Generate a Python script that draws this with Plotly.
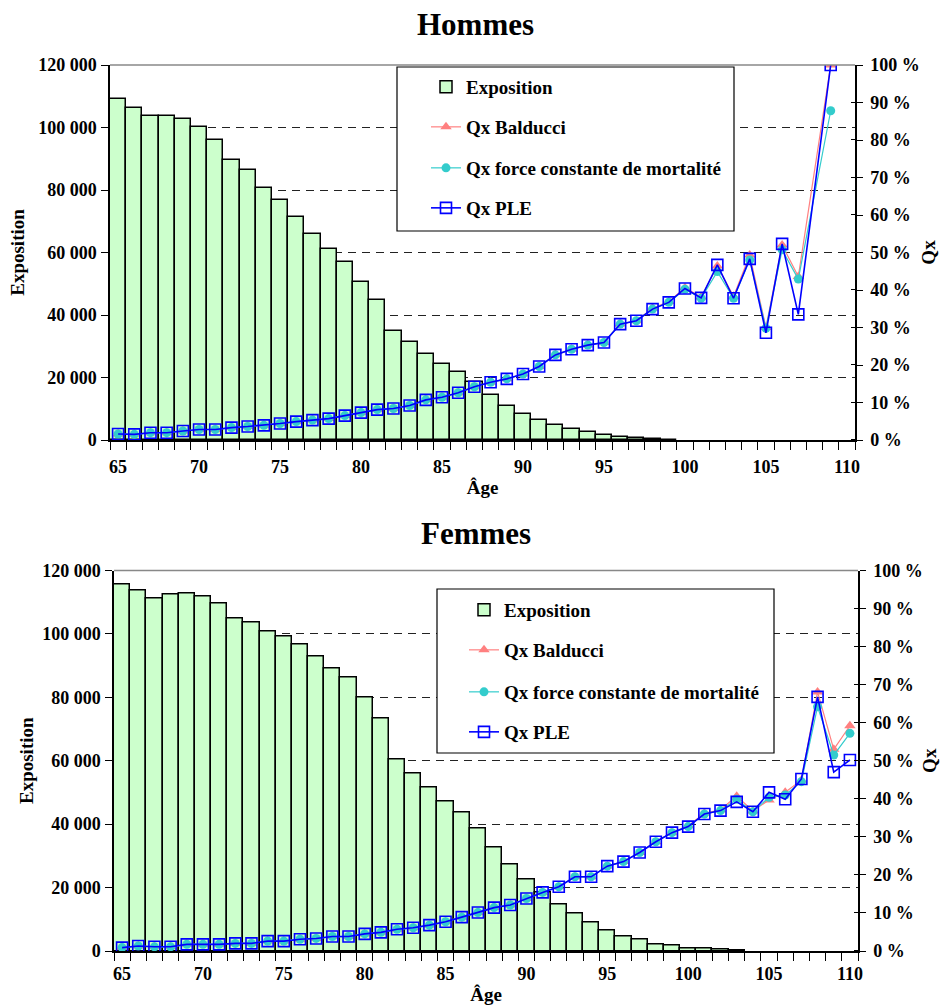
import plotly.graph_objects as go

# ---------------- data ----------------
ages = list(range(65, 111))

expo_hommes = [109100, 106100, 103700, 103700, 102700, 100300, 96000, 89500, 86500, 80700,
               76700, 71400, 66000, 61000, 57100, 50700, 44800, 34900, 31500, 27500,
               24200, 21700, 18600, 14300, 10900, 8400, 6500, 4900, 3500, 2500,
               1500, 1070, 640, 250, 150, None, None, None, None, None,
               None, None, None, None, None, None]

qx_ple_h = [1.6, 1.5, 1.95, 1.95, 2.4, 2.8, 2.8, 3.3, 3.6, 3.9,
            4.4, 4.9, 5.3, 5.7, 6.5, 7.3, 8.1, 8.4, 9.2, 10.7,
            11.4, 12.6, 14.2, 15.4, 16.3, 17.6, 19.6, 22.7, 24.2, 25.3,
            26.0, 30.9, 31.8, 34.9, 36.7, 40.4, 37.9, 46.7, 37.8, 48.3,
            28.6, 52.3, 33.5, None, 100.0, None]
qx_bal_h = [1.6, 1.5, 1.95, 1.95, 2.4, 2.8, 2.8, 3.3, 3.6, 3.9,
            4.4, 4.9, 5.3, 5.7, 6.5, 7.3, 8.1, 8.4, 9.2, 10.7,
            11.4, 12.6, 14.2, 15.4, 16.3, 17.6, 19.6, 22.7, 24.2, 25.3,
            26.0, 30.9, 31.8, 35.1, 36.9, 40.6, 38.1, 46.4, 38.3, 49.3,
            30.0, 52.0, 43.6, None, 100.0, None]
qx_fcm_h = [1.6, 1.5, 1.95, 1.95, 2.4, 2.8, 2.8, 3.3, 3.6, 3.9,
            4.4, 4.9, 5.3, 5.7, 6.5, 7.3, 8.1, 8.4, 9.2, 10.7,
            11.4, 12.6, 14.2, 15.4, 16.3, 17.6, 19.6, 22.7, 24.2, 25.3,
            26.0, 30.9, 31.8, 34.9, 36.7, 40.2, 37.8, 44.9, 37.8, 48.0,
            29.8, 50.7, 42.9, None, 87.8, None]

expo_femmes = [115700, 113800, 111300, 112300, 112700, 111800, 109500, 105000, 103700, 100700,
               99100, 96700, 92800, 89100, 86100, 79800, 73400, 60300, 56000, 51500,
               47300, 43700, 38600, 32700, 27400, 22600, 18500, 14700, 11900, 8900,
               6600, 4500, 3700, 2200, 1600, 850, 750, 350, 300, None,
               None, None, None, None, None, None]

qx_ple_f = [0.9, 1.3, 1.1, 1.1, 1.75, 1.75, 1.75, 2.0, 2.0, 2.6,
            2.6, 3.1, 3.3, 3.8, 3.8, 4.5, 4.9, 5.7, 6.1, 6.8,
            7.7, 8.9, 10.1, 11.4, 12.1, 13.8, 15.4, 16.9, 19.5, 19.5,
            22.3, 23.5, 25.9, 28.7, 31.1, 32.7, 36.0, 36.9, 39.2, 36.6,
            41.7, 39.9, 45.2, 66.8, 47.0, 50.2]
qx_bal_f = [0.9, 1.3, 1.1, 1.1, 1.75, 1.75, 1.75, 2.0, 2.0, 2.6,
            2.6, 3.1, 3.3, 3.8, 3.8, 4.5, 4.9, 5.7, 6.1, 6.8,
            7.7, 8.9, 10.1, 11.4, 12.1, 13.8, 15.4, 16.9, 19.5, 19.5,
            22.3, 23.5, 25.9, 28.7, 31.1, 32.9, 36.2, 37.1, 40.7, 36.8,
            39.7, 41.7, 44.9, 68.1, 53.0, 59.2]
qx_fcm_f = [0.9, 1.3, 1.1, 1.1, 1.75, 1.75, 1.75, 2.0, 2.0, 2.6,
            2.6, 3.1, 3.3, 3.8, 3.8, 4.5, 4.9, 5.7, 6.1, 6.8,
            7.7, 8.9, 10.1, 11.4, 12.1, 13.8, 15.4, 16.9, 19.5, 19.5,
            22.3, 23.5, 25.9, 28.7, 31.1, 32.7, 36.0, 36.9, 39.9, 36.6,
            40.4, 41.0, 44.5, 64.2, 51.5, 57.2]

expo_ticks = [0, 20000, 40000, 60000, 80000, 100000, 120000]
age_ticks = [65, 70, 75, 80, 85, 90, 95, 100, 105, 110]
titres = ["Hommes", "Femmes"]
noms = ["Exposition", "Qx Balducci", "Qx force constante de mortalité", "Qx PLE"]

# ---------------- styling helpers ----------------
W, H = 940, 1007
OFF = 0  # body margin removed below, figure sits at the page origin
def fx(px):
    return (px - OFF) / W
def fy(py):
    return 1 - (py - OFF) / H

FONT = "Liberation Serif"
tickfont = dict(family=FONT, size=18, color="black", weight="bold")
legfont = dict(family=FONT, size=19, color="black", weight="bold")
titfont = dict(family=FONT, size=19, color="black", weight="bold")

C_BAR = "#CCFFCC"
C_BAL = "#FF8080"
C_FCM = "#33CCCC"
C_PLE = "#0000FF"

fig = go.Figure()

panels = [
    dict(expo=expo_hommes, bal=qx_bal_h, fcm=qx_fcm_h, ple=qx_ple_h,
         xa="x", yl="y", yr="y2", legs=["legend", "legend2", "legend3", "legend4"]),
    dict(expo=expo_femmes, bal=qx_bal_f, fcm=qx_fcm_f, ple=qx_ple_f,
         xa="x2", yl="y3", yr="y4", legs=["legend5", "legend6", "legend7", "legend8"]),
]

for p in panels:
    fig.add_trace(go.Bar(x=ages, y=p["expo"], name=noms[0], xaxis=p["xa"], yaxis=p["yl"],
                         marker=dict(color=C_BAR, line=dict(color="black", width=1.5)),
                         width=1, legend=p["legs"][0]))
    fig.add_trace(go.Scatter(x=ages, y=p["bal"], name=noms[1], xaxis=p["xa"], yaxis=p["yr"],
                             mode="lines+markers", connectgaps=True,
                             line=dict(color=C_BAL, width=1.2),
                             marker=dict(symbol="triangle-up", size=10, color=C_BAL),
                             legend=p["legs"][1]))
    fig.add_trace(go.Scatter(x=ages, y=p["fcm"], name=noms[2], xaxis=p["xa"], yaxis=p["yr"],
                             mode="lines+markers", connectgaps=True,
                             line=dict(color=C_FCM, width=1.2),
                             marker=dict(symbol="circle", size=9, color=C_FCM),
                             legend=p["legs"][2]))
    fig.add_trace(go.Scatter(x=ages, y=p["ple"], name=noms[3], xaxis=p["xa"], yaxis=p["yr"],
                             mode="lines+markers", connectgaps=True,
                             line=dict(color=C_PLE, width=1.6),
                             marker=dict(symbol="square-open", size=11, color=C_PLE,
                                         line=dict(width=1.6, color=C_PLE)),
                             legend=p["legs"][3]))

def xaxis_cfg(left, right, anchor, standoff_lab, standoff_tit):
    return dict(domain=[fx(left), fx(right)], anchor=anchor, range=[64.5, 110.5],
                tickmode="array", tickvals=age_ticks, ticks="", tickfont=tickfont,
                ticklabelstandoff=standoff_lab,
                showline=True, linecolor="black", linewidth=1.5, showgrid=False, zeroline=False,
                minor=dict(tickmode="linear", tick0=64.5, dtick=1, ticks="outside",
                           ticklen=8, tickcolor="black", tickwidth=1.2),
                title=dict(text="Âge", font=titfont, standoff=standoff_tit))

def yleft_cfg(top, bottom, anchor, standoff_tit):
    return dict(domain=[fy(bottom), fy(top)], anchor=anchor, range=[0, 120000],
                tickmode="array", tickvals=expo_ticks, tickformat=",d",
                ticks="outside", ticklen=7, tickcolor="black", tickwidth=1.2,
                ticklabelstandoff=1, tickfont=tickfont,
                showline=True, linecolor="black", linewidth=1.5, zeroline=False,
                showgrid=True, gridcolor="#222222", gridwidth=1, griddash="8px,6px",
                title=dict(text="Exposition", font=titfont, standoff=standoff_tit))

def yright_cfg(overlay, anchor):
    return dict(overlaying=overlay, side="right", anchor=anchor, range=[0, 100],
                tickmode="linear", tick0=0, dtick=10, ticksuffix=" %",
                ticks="outside", ticklen=6, tickcolor="black", tickwidth=1.2,
                ticklabelstandoff=4, tickfont=tickfont,
                minor=dict(tickmode="linear", tick0=0.02, dtick=10, ticks="inside",
                           ticklen=4, tickcolor="black", tickwidth=1.2),
                showline=True, linecolor="black", linewidth=1.5, zeroline=False, showgrid=False,
                title=dict(text="Qx", font=titfont, standoff=3))

# legend positions (pixel)
leg_pos = {
    "legend": (426, 87), "legend2": (426, 127), "legend3": (426, 168), "legend4": (426, 208),
    "legend5": (464, 610), "legend6": (464, 650), "legend7": (464, 692), "legend8": (464, 732),
}
legends = {}
for k, (lx, ly) in leg_pos.items():
    legends[k] = dict(x=fx(lx), y=fy(ly), xanchor="left", yanchor="middle",
                      xref="paper", yref="paper", bgcolor="rgba(0,0,0,0)", borderwidth=0,
                      font=dict(legfont), itemwidth=30)

shapes = [
    # legend boxes
    dict(type="rect", xref="paper", yref="paper", x0=fx(397), x1=fx(734), y0=fy(231), y1=fy(67),
         line=dict(color="black", width=1.2), fillcolor="white", layer="above"),
    dict(type="rect", xref="paper", yref="paper", x0=fx(437), x1=fx(774), y0=fy(753), y1=fy(589),
         line=dict(color="black", width=1.2), fillcolor="white", layer="above"),
    # gray top border of plot areas
    dict(type="line", xref="x domain", yref="y domain", x0=0, x1=1, y0=1, y1=1,
         line=dict(color="#888888", width=1.5), layer="above"),
    dict(type="line", xref="x2 domain", yref="y3 domain", x0=0, x1=1, y0=1, y1=1,
         line=dict(color="#888888", width=1.5), layer="above"),
]

titlefont = dict(family=FONT, size=31, color="black", weight="bold")
annotations = [
    dict(text=titres[0], x=fx(476), y=fy(25), xref="paper", yref="paper", showarrow=False,
         xanchor="center", yanchor="middle", font=titlefont),
    dict(text=titres[1], x=fx(476), y=fy(533), xref="paper", yref="paper", showarrow=False,
         xanchor="center", yanchor="middle", font=titlefont),
]

fig.update_layout(
    width=W, height=H, margin=dict(l=0, r=0, t=0, b=0, autoexpand=False),
    font=dict(family=FONT, color="black", weight="bold"),
    paper_bgcolor="white", plot_bgcolor="white",
    separators=", ", bargap=0, barmode="overlay",
    showlegend=True,
    xaxis=xaxis_cfg(110, 855, "y", 10, 4),
    yaxis=yleft_cfg(65, 440, "x", 9),
    yaxis2=yright_cfg("y", "x"),
    xaxis2=xaxis_cfg(114, 858, "y3", 6, 4),
    yaxis3=yleft_cfg(570.5, 951, "x2", 4),
    yaxis4=yright_cfg("y3", "x2"),
    shapes=shapes, annotations=annotations,
    **legends,
)

fig.write_html("out.html",
               config={"displayModeBar": False},
               post_script="document.body.style.margin='0';document.body.style.overflow='hidden';")
